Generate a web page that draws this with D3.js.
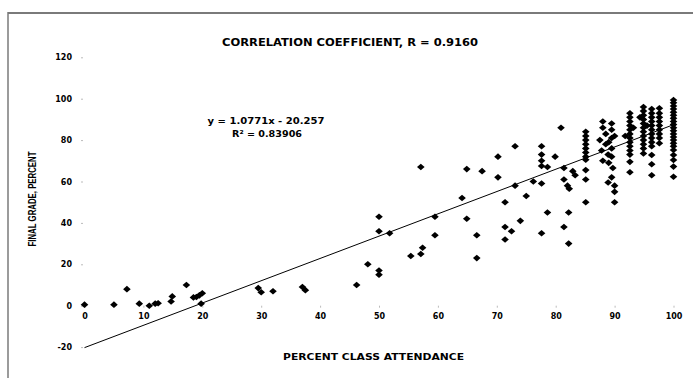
<!DOCTYPE html>
<html>
<head>
<meta charset="utf-8">
<script src="https://cdn.jsdelivr.net/npm/d3@7"></script>
<style>
  html, body { margin: 0; padding: 0; background: #fff; }
  svg { display: block; }
</style>
</head>
<body>
<svg id="chart" width="693" height="384"></svg>
<script>
// ---- data ----
const title = "CORRELATION COEFFICIENT, R = 0.9160";
const xTitle = "PERCENT CLASS ATTENDANCE";
const yTitle = "FINAL GRADE, PERCENT";
const eqLine1 = "y = 1.0771x - 20.257";
const eqLine2 = "R² = 0.83906";
const slope = 1.0771;
const intercept = -20.257;
const xTicks = [0, 10, 20, 30, 40, 50, 60, 70, 80, 90, 100];
const yTicks = [-20, 0, 20, 40, 60, 80, 100, 120];

const attendance = [
  0, 5, 7.2, 9.3, 11, 12, 12.5, 14.7, 14.9, 17.3, 18.5, 19, 19.5, 20, 19.8,
  29.5, 30, 32, 37, 37.5, 46.2, 48.1, 50, 50, 50, 50, 51.8, 55.4, 57.1, 57.4,
  57.1, 59.5, 59.5, 64.1, 64.9, 64.9, 66.6, 66.6, 67.5, 70.2, 70.2, 71.4, 71.4, 71.4,
  72.5, 73.1, 73.1, 74, 75, 76.2, 77.6, 77.6, 77.6, 77.6, 77.6, 77.6, 78.6, 78.6,
  79.9, 80.9, 81.4, 81.4, 81.4, 82, 82.3, 82.2, 82.2, 82.9, 83.3,
  85.1, 85.1, 85.1, 85.1, 85.1, 85.1, 85.1, 85.1, 85.1, 85.1, 85.1,
  87.5, 87.8, 88, 88, 88, 88.5, 88.5, 88.9, 89, 88.9, 89.5, 89.5, 89.5, 89.5, 89.5,
  89.7, 89.5, 90, 90, 90, 89, 90,
  92.6, 92.6, 92.6, 92.6, 92.6, 92.6, 92.6, 92.6, 92.6, 92.6, 92.6, 92.6, 92.6, 91.8, 93.2,
  94.9, 94.9, 94.9, 94.9, 94.9, 94.9, 94.9, 94.9, 94.9, 94.9, 94.9, 94.9, 94.3, 95.5,
  96.3, 96.3, 96.3, 96.3, 96.3, 96.3, 96.3, 96.3, 96.3, 96.3, 96.3, 96.3, 96.3,
  97.6, 97.6, 97.6, 97.6, 97.6, 97.6, 97.6, 97.6, 97.6,
  100, 100, 100, 100, 100, 100, 100, 100, 100, 100, 100, 100, 100, 100, 100, 100,
  100, 100, 100, 100, 100
];
const grade = [
  0.5, 0.5, 8, 1, 0, 1, 1.2, 2, 4.5, 10, 4, 4.2, 5, 6, 1,
  8.5, 6.5, 7, 9, 7.5, 10, 20, 17, 15, 36, 43, 35, 24, 25, 28,
  67, 43, 34, 52, 66, 42, 34, 23, 65, 72, 62, 50, 38, 32,
  36, 77, 58, 41, 53, 60, 77, 73, 70, 67.5, 59, 35, 67, 45,
  72, 86, 66.5, 61, 38, 58, 56.5, 45, 30, 65, 63,
  84, 82, 80, 78, 76, 74, 72, 70.5, 65.5, 61, 50,
  80, 75, 89, 86, 70, 83, 78, 73, 69, 59.5, 88, 85, 81, 76, 72,
  66.5, 62, 58, 55, 50, 79, 82,
  93, 91, 89, 87, 85, 83, 81, 79, 77, 75, 73, 69.5, 64.5, 82, 86,
  96, 94, 92, 90, 88, 86, 84, 82, 80, 78, 76, 73.5, 91, 87,
  95, 93, 91, 89, 87, 85, 83, 81, 79, 77, 72.8, 68.3, 63,
  95.4, 93, 91, 89, 87, 85, 83, 81, 78.5,
  99.4, 98, 96.5, 95, 93.5, 92, 90.5, 89, 87.5, 86, 84.5, 83, 81.5, 80, 78.5, 77,
  75.2, 72.8, 70.4, 67.2, 62.3
];

// ---- drawing ----
const svg = d3.select("#chart");
const x = d3.scaleLinear().domain([0, 100]).range([84.5, 673.5]);
const y = d3.scaleLinear().domain([-20, 120]).range([347.1, 57.3]);

// chart border (top and left visible)
svg.append("line").attr("x1", 8).attr("x2", 693).attr("y1", 13).attr("y2", 13)
  .attr("stroke", "#7a7a7a").attr("stroke-width", 2);
svg.append("line").attr("x1", 8).attr("x2", 8).attr("y1", 12).attr("y2", 378)
  .attr("stroke", "#7a7a7a").attr("stroke-width", 1.5);

// y axis
const yAxis = svg.append("g").attr("transform", "translate(83,0)")
  .call(d3.axisLeft(y).tickValues(yTicks).tickSize(2).tickPadding(9)
    .tickFormat(d => String(d)));
yAxis.select(".domain").remove();
yAxis.selectAll(".tick line").attr("stroke", "#bbb");
yAxis.selectAll(".tick text")
  .attr("font-family", "DejaVu Sans").attr("font-weight", "bold")
  .attr("font-size", 8).attr("fill", "#000");

// x axis along y=0
const xAxis = svg.append("g").attr("transform", `translate(0,${y(0)})`)
  .call(d3.axisBottom(x).tickValues(xTicks).tickSize(2).tickFormat(d => String(d)));
xAxis.select(".domain").remove();
xAxis.selectAll(".tick line").attr("stroke", "#bbb");
xAxis.selectAll(".tick text")
  .attr("y", 13.5).attr("dy", 0)
  .attr("font-family", "DejaVu Sans").attr("font-weight", "bold")
  .attr("font-size", 8).attr("fill", "#000");

// trendline
svg.append("line")
  .attr("x1", x(0)).attr("y1", y(slope * 0 + intercept))
  .attr("x2", x(100)).attr("y2", y(slope * 100 + intercept))
  .attr("stroke", "#000").attr("stroke-width", 1);

// points
const pts = attendance.map((a, i) => ({ a, g: grade[i] }));
const rx = 3.8, ry = 3.3;
svg.append("g").selectAll("path").data(pts).join("path")
  .attr("d", `M0,${-ry}L${rx},0L0,${ry}L${-rx},0Z`)
  .attr("transform", d => `translate(${x(d.a)},${y(d.g)})`)
  .attr("fill", "#000");

// title
svg.append("text").attr("x", 350).attr("y", 46).attr("text-anchor", "middle")
  .attr("font-family", "DejaVu Sans").attr("font-weight", "bold").attr("font-size", 11)
  .attr("textLength", 256).attr("lengthAdjust", "spacingAndGlyphs")
  .text(title);

// equation
svg.append("text").attr("x", 266).attr("y", 124).attr("text-anchor", "middle")
  .attr("font-family", "DejaVu Sans").attr("font-weight", "bold").attr("font-size", 9.5)
  .attr("textLength", 117).attr("lengthAdjust", "spacingAndGlyphs")
  .text(eqLine1);
svg.append("text").attr("x", 267).attr("y", 137).attr("text-anchor", "middle")
  .attr("font-family", "DejaVu Sans").attr("font-weight", "bold").attr("font-size", 9.5)
  .attr("textLength", 70).attr("lengthAdjust", "spacingAndGlyphs")
  .text(eqLine2);

// axis titles
svg.append("text").attr("x", 373.5).attr("y", 359.5).attr("text-anchor", "middle")
  .attr("font-family", "DejaVu Sans").attr("font-weight", "bold").attr("font-size", 9.5)
  .attr("textLength", 181).attr("lengthAdjust", "spacingAndGlyphs")
  .text(xTitle);
svg.append("text").attr("transform", "translate(36,199) rotate(-90)")
  .attr("text-anchor", "middle")
  .attr("font-family", "Liberation Sans").attr("font-weight", "bold").attr("font-size", 11)
  .attr("textLength", 95).attr("lengthAdjust", "spacingAndGlyphs")
  .text(yTitle);
</script>
</body>
</html>
